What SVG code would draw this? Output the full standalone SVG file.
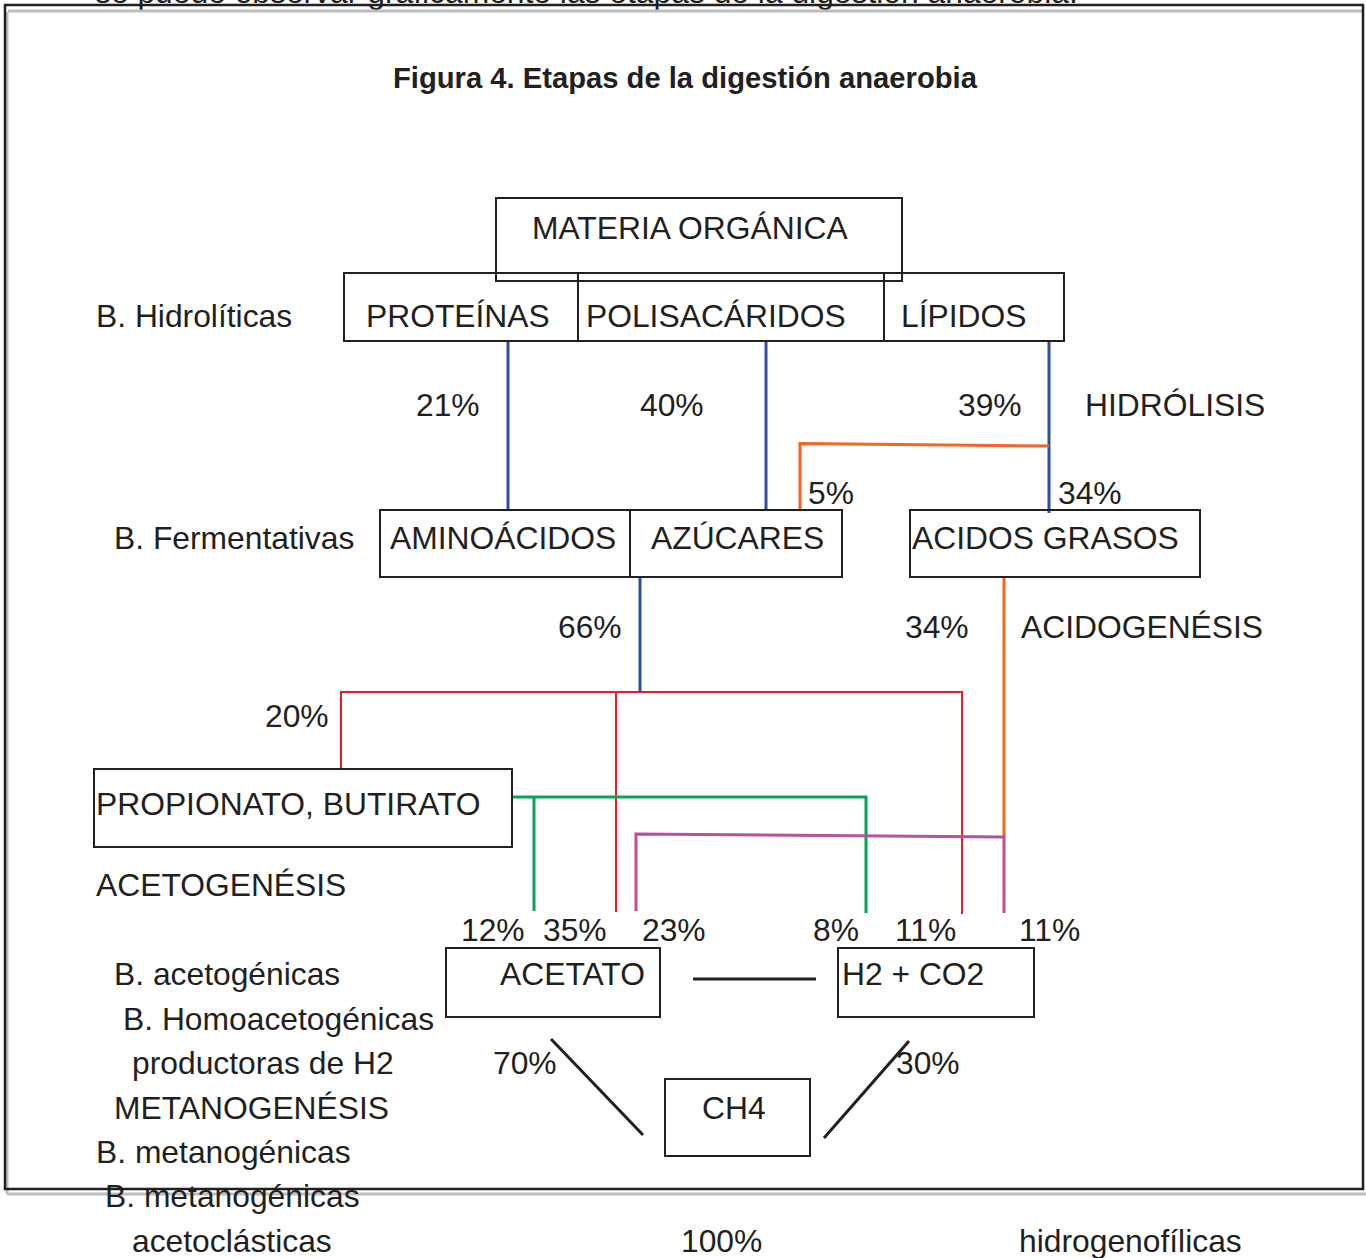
<svg xmlns="http://www.w3.org/2000/svg" width="1366" height="1258" viewBox="0 0 1366 1258">
<style>
text{font-family:"Liberation Sans",Arial,sans-serif;font-size:31.8px;fill:#231f20}
.t{font-weight:bold;font-size:29.2px}
.box{fill:none;stroke:#231f20;stroke-width:2}
.blue{stroke:#2e4f9f;stroke-width:3;fill:none}
.orange{stroke:#f26522;stroke-width:3;fill:none}
.red{stroke:#ed1c24;stroke-width:2;fill:none}
.green{stroke:#00a651;stroke-width:3;fill:none}
.purple{stroke:#b5519f;stroke-width:3;fill:none}
.blk{stroke:#231f20;stroke-width:3;fill:none}
.gray{stroke:#bcbdc0;stroke-width:3;fill:none}
</style>
<rect width="1366" height="1258" fill="#fff"/>
<text x="95" y="3">se puede observar gráficamente las etapas de la digestión anaerobia.</text>
<g id="frame">
<polyline class="gray" points="8,11 1363,11"/>
<polyline class="gray" points="7,1194 1366,1194"/>
<polyline class="gray" points="7,12 7,1194"/>
<rect x="5" y="5" width="1358" height="1184" fill="none" stroke="#231f20" stroke-width="2.5"/>
</g>
<text class="t" x="393" y="88">Figura 4. Etapas de la digestión anaerobia</text>
<g id="connectors">
<line class="blue" x1="508" y1="341" x2="508" y2="510"/>
<line class="blue" x1="766" y1="341" x2="766" y2="510"/>
<line class="blue" x1="1049" y1="341" x2="1049" y2="513"/>
<line class="blue" x1="640" y1="578" x2="640" y2="692"/>
<polyline class="orange" points="1049,446 800,443.5 800,510"/>
<polyline class="orange" points="1004,578 1004,836"/>
<polyline class="red" points="341,769 341,692 962,692 962,914"/>
<line class="red" x1="616" y1="692" x2="616" y2="912"/>
<polyline class="green" points="512,797 866,797 866,913"/>
<line class="green" x1="534" y1="797" x2="534" y2="911"/>
<polyline class="purple" points="636,911 636,834 1004,837 1004,913"/>
<line class="blk" x1="693" y1="979" x2="816" y2="979"/>
<line class="blk" x1="551" y1="1039" x2="643" y2="1135"/>
<line class="blk" x1="909" y1="1041" x2="824" y2="1138"/>
</g>
<g id="materia"><rect class="box" x="496" y="198" width="406" height="83"/><text x="532" y="239">MATERIA ORGÁNICA</text></g>
<g id="proteinas"><rect class="box" x="344" y="273" width="234" height="68"/><text x="366" y="327">PROTEÍNAS</text></g>
<g id="polisacaridos"><rect class="box" x="578" y="273" width="306" height="68"/><text x="586" y="327">POLISACÁRIDOS</text></g>
<g id="lipidos"><rect class="box" x="884" y="273" width="180" height="68"/><text x="901" y="327">LÍPIDOS</text></g>
<g id="aminoacidos"><rect class="box" x="380" y="510" width="250" height="67"/><text x="390" y="549">AMINOÁCIDOS</text></g>
<g id="azucares"><rect class="box" x="630" y="510" width="212" height="67"/><text x="651" y="549">AZÚCARES</text></g>
<g id="acidos"><rect class="box" x="910" y="510" width="290" height="67"/><text x="912" y="549">ACIDOS GRASOS</text></g>
<g id="propionato"><rect class="box" x="94" y="769" width="418" height="78"/><text x="96" y="815">PROPIONATO, BUTIRATO</text></g>
<g id="acetato"><rect class="box" x="446" y="948" width="214" height="69"/><text x="500" y="985">ACETATO</text></g>
<g id="h2co2"><rect class="box" x="838" y="948" width="196" height="69"/><text x="842" y="985">H2 + CO2</text></g>
<g id="ch4"><rect class="box" x="665" y="1079" width="145" height="77" stroke-width="3"/><text x="702" y="1119">CH4</text></g>
<g id="labels">
<text x="96" y="327">B. Hidrolíticas</text>
<text x="416" y="416">21%</text>
<text x="640" y="416">40%</text>
<text x="958" y="416">39%</text>
<text x="1085" y="416">HIDRÓLISIS</text>
<text x="808" y="504">5%</text>
<text x="1058" y="504">34%</text>
<text x="114" y="549">B. Fermentativas</text>
<text x="558" y="638">66%</text>
<text x="905" y="638">34%</text>
<text x="1021" y="638">ACIDOGENÉSIS</text>
<text x="265" y="727">20%</text>
<text x="96" y="896">ACETOGENÉSIS</text>
<text x="461" y="941">12%</text>
<text x="543" y="941">35%</text>
<text x="642" y="941">23%</text>
<text x="813" y="941">8%</text>
<text x="895" y="941">11%</text>
<text x="1019" y="941">11%</text>
<text x="114" y="985">B. acetogénicas</text>
<text x="123" y="1030">B. Homoacetogénicas</text>
<text x="132" y="1074">productoras de H2</text>
<text x="493" y="1074">70%</text>
<text x="896" y="1074">30%</text>
<text x="114" y="1119">METANOGENÉSIS</text>
<text x="96" y="1163">B. metanogénicas</text>
<text x="105" y="1207">B. metanogénicas</text>
<text x="132" y="1252">acetoclásticas</text>
<text x="681" y="1252">100%</text>
<text x="1019" y="1252">hidrogenofílicas</text>
</g>
</svg>
